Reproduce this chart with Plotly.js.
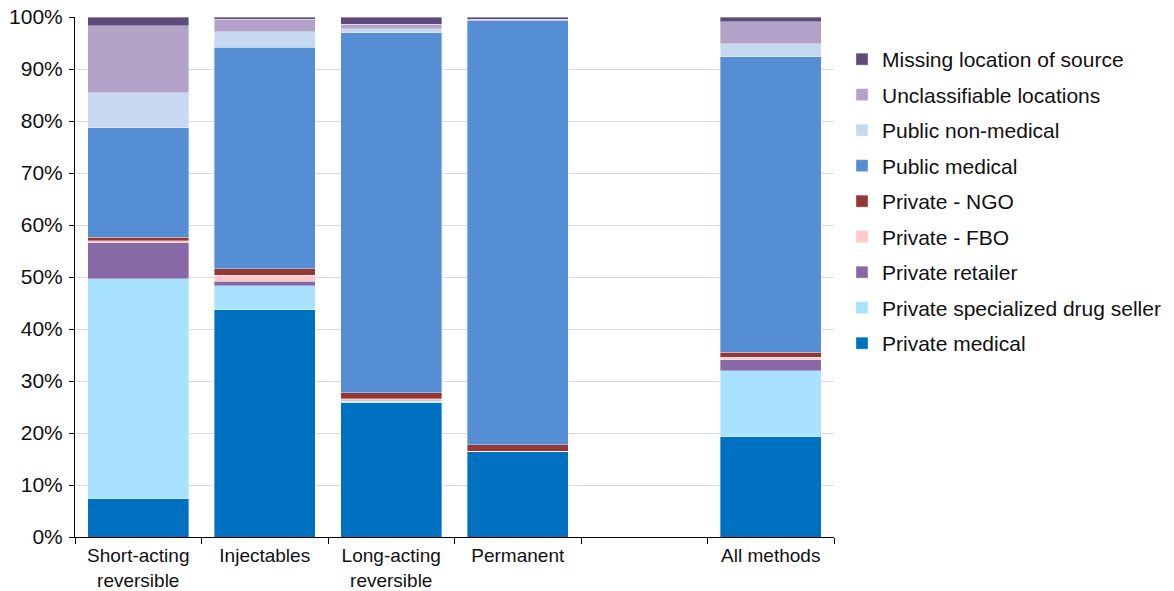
<!DOCTYPE html>
<html>
<head>
<meta charset="utf-8">
<script src="https://cdn.plot.ly/plotly-3.0.1.min.js"></script>
<style>html,body{margin:0;padding:0;background:#fff;}#chart{width:1174px;height:591px;}</style>
</head>
<body>
<div id="chart"></div>
<script>
const categories = ["Short-acting<br>reversible", "Injectables", "Long-acting<br>reversible", "Permanent", " ", "All methods"];

const privateMedical   = [7.4, 43.7, 25.8, 16.4, null, 19.3];
const privateDrugSeller= [42.3, 4.6, 0.3, 0.0, null, 12.7];
const privateRetailer  = [6.9, 0.9, 0.2, 0.0, null, 2.1];
const privateFBO       = [0.4, 1.1, 0.3, 0.1, null, 0.5];
const privateNGO       = [0.6, 1.3, 1.1, 1.2, null, 0.9];
const publicMedical    = [21.1, 42.6, 69.3, 81.6, null, 56.9];
const publicNonMedical = [6.7, 3.0, 0.7, 0.0, null, 2.5];
const unclassifiable   = [12.9, 2.4, 0.9, 0.3, null, 4.2];
const missingLocation  = [1.7, 0.4, 1.4, 0.4, null, 0.9];

const seriesNames = ["Private medical", "Private specialized drug seller", "Private retailer",
  "Private - FBO", "Private - NGO", "Public medical", "Public non-medical",
  "Unclassifiable locations", "Missing location of source"];
const seriesValues = [privateMedical, privateDrugSeller, privateRetailer, privateFBO, privateNGO,
  publicMedical, publicNonMedical, unclassifiable, missingLocation];
const seriesColors = ["#0070C0", "#A9E2FE", "#8669A6", "#FFC9C9", "#953735",
  "#558ED5", "#C6D9F1", "#B3A2C7", "#5E4B7C"];

const traces = seriesNames.map((n, i) => ({
  type: "bar",
  name: n,
  x: categories,
  y: seriesValues[i],
  legendgroup: "g" + i,
  legendrank: 1000 - i,
  marker: {color: seriesColors[i], line: {color: "rgba(255,255,255,0.45)", width: 0.8}},
  hoverinfo: "name+y"
}));

const layout = {
  width: 1174, height: 591,
  margin: {l: 75, r: 340, t: 17, b: 54},
  barmode: "stack",
  bargap: 0.2,
  paper_bgcolor: "#fff",
  plot_bgcolor: "#fff",
  font: {family: "Liberation Sans, Arial, Helvetica, sans-serif", size: 21, color: "#111"},
  xaxis: {
    type: "category",
    categoryorder: "array",
    categoryarray: categories,
    showline: true, linecolor: "#000", linewidth: 1,
    ticks: "outside", tickson: "boundaries", ticklen: 6, tickcolor: "#000",
    ticklabelstandoff: 1,
    showgrid: false,
    automargin: false,
    tickfont: {size: 19}
  },
  yaxis: {
    range: [0, 100], dtick: 10, ticksuffix: "%",
    showline: true, linecolor: "#000", linewidth: 1,
    ticks: "outside", ticklen: 5, tickcolor: "#000",
    ticklabelstandoff: 2,
    showgrid: true, gridcolor: "#dcdcdc", gridwidth: 1,
    zeroline: false,
    automargin: false,
    tickfont: {size: 21}
  },
  legend: {
    xref: "container", yref: "container",
    x: 0.7172, xanchor: "left", y: 1 - 39/591, yanchor: "top",
    maxheight: 520,
    traceorder: "grouped",
    tracegroupgap: 5.2,
    font: {size: 21},
    bgcolor: "rgba(0,0,0,0)"
  },
  showlegend: true
};

Plotly.newPlot("chart", traces, layout, {displayModeBar: false, staticPlot: true});
</script>
</body>
</html>
